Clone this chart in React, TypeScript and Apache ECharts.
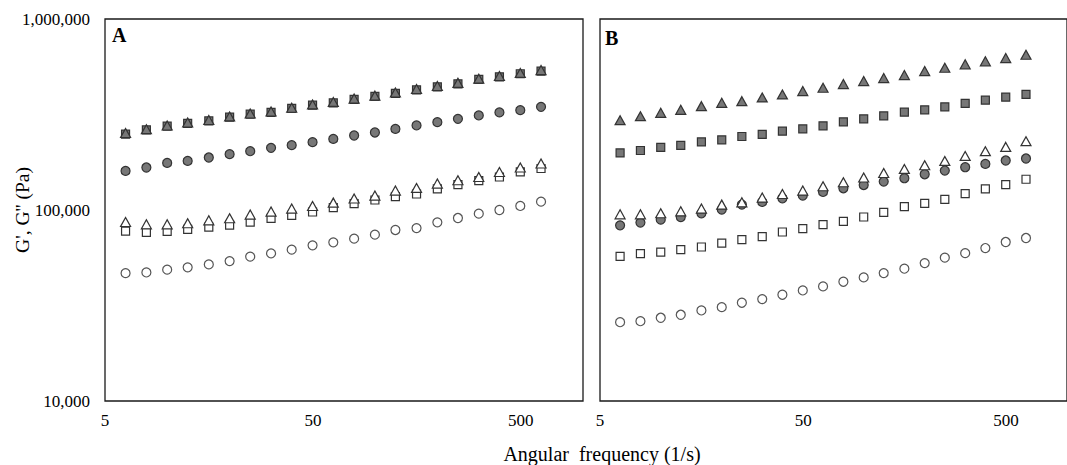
import React, { useEffect, useRef } from "react";
import * as echarts from "echarts";

const freq = [6.28, 7.91, 9.96, 12.5, 15.8, 19.9, 25.0, 31.5, 39.6, 49.9, 62.8, 79.1, 99.6, 125, 158, 199, 250, 315, 396, 499, 628];

const xTicks = [5, 50, 500];
const yTicks = [10000, 100000, 1000000];

// Panel A
const aFilledCircle = [160200, 166900, 176400, 180700, 188300, 196000, 203200, 211500, 218500, 226500, 235700, 245500, 254600, 265900, 277100, 288400, 300100, 312600, 324200, 333300, 346800];
const aFilledSquare = [249500, 262800, 274800, 283900, 292900, 306300, 317600, 324200, 340200, 354000, 364000, 379300, 393300, 407800, 425900, 441600, 457900, 482800, 498200, 516700, 533800];
const aFilledTriangle = [253000, 265000, 277000, 287000, 296000, 309000, 320000, 328000, 343000, 357000, 368000, 383000, 397000, 412000, 430000, 446000, 463000, 487000, 503000, 522000, 540000];
const aOpenCircle = [46700, 47100, 48700, 50100, 51900, 54000, 57000, 59300, 62000, 65300, 67700, 70800, 74300, 78600, 80400, 86200, 90800, 95700, 100000, 105000, 110600];
const aOpenSquare = [77600, 76400, 77300, 79200, 81400, 83400, 86500, 90500, 93800, 97600, 102900, 108000, 112800, 117500, 121300, 128900, 135900, 142600, 148900, 158200, 164900];
const aOpenTriangle = [86500, 84100, 84100, 85200, 88300, 90500, 94600, 98100, 101700, 105000, 109300, 114800, 119000, 126400, 130500, 137500, 143100, 148900, 158200, 166900, 175100];

// Panel B
const bFilledCircle = [83100, 85900, 89000, 91900, 96100, 100500, 106700, 110200, 115200, 119000, 124300, 130000, 135200, 140900, 146700, 153900, 160900, 167500, 174300, 181600, 186000];
const bFilledSquare = [199000, 204900, 212500, 217700, 227300, 232900, 242600, 248600, 258700, 265900, 275800, 289400, 300100, 311100, 325400, 334500, 346800, 361300, 376000, 389900, 402900];
const bFilledTriangle = [295400, 310000, 322700, 334500, 349800, 364000, 371500, 388500, 402900, 419300, 436300, 456300, 473100, 490500, 508500, 533800, 555500, 578800, 600100, 624400, 649900];
const bOpenCircle = [25860, 26170, 27280, 28280, 29790, 31000, 32690, 34150, 36010, 37920, 39800, 42120, 44370, 46720, 49280, 52730, 56280, 59500, 63200, 67970, 71330];
const bOpenSquare = [57200, 59100, 60200, 62000, 64000, 67100, 69900, 72500, 76700, 79900, 83800, 87200, 91900, 97200, 104200, 108400, 113800, 121900, 128900, 135900, 144900];
const bOpenTriangle = [94900, 94900, 96100, 98400, 101700, 106700, 109700, 116100, 121300, 126400, 133100, 139800, 147900, 156300, 164100, 171600, 180700, 191900, 203200, 214000, 229300];

const FONT = "'Liberation Serif', 'Times New Roman', serif";
const FILL = "#777777";
const EDGE = "#333333";

const pair = (ys: number[]) => freq.map((x, i) => [x, ys[i]]);

const fmtX = (v: number) => {
  const p = Math.pow(10, Math.floor(Math.log10(v) + 1e-9));
  const r = Math.round(v / p) * p;
  return xTicks.includes(r) ? String(r) : "";
};
const fmtY = (v: number) => {
  const r = Math.round(v);
  return yTicks.includes(r) ? r.toLocaleString("en-US") : "";
};

function mk(name: string, ys: number[], idx: number, symbol: string, filled: boolean) {
  const size = symbol === "triangle" ? [10, 9] : symbol === "rect" ? 8 : 9;
  return {
    name,
    type: "scatter",
    xAxisIndex: idx,
    yAxisIndex: idx,
    data: pair(ys),
    symbol,
    symbolSize: size,
    itemStyle: {
      color: filled ? FILL : "#ffffff",
      borderColor: symbol === "circle" && !filled ? "#555555" : EDGE,
      borderWidth: 1.2,
      opacity: 1,
    },
    emphasis: { disabled: true },
  };
}

function xAxis(gridIndex: number) {
  return {
    type: "log",
    gridIndex,
    logBase: 10,
    min: 5,
    max: 1000,
    interval: 1,
    axisLine: { show: false },
    axisTick: { show: false },
    splitLine: { show: false },
    axisLabel: {
      formatter: fmtX,
      showMaxLabel: false,
      fontFamily: FONT,
      fontSize: 17,
      color: "#000",
      margin: 11,
    },
  };
}

function yAxis(gridIndex: number, showLabels: boolean) {
  return {
    type: "log",
    gridIndex,
    logBase: 10,
    min: 10000,
    max: 1000000,
    interval: 1,
    axisLine: { show: false },
    axisTick: { show: false },
    splitLine: { show: false },
    axisLabel: {
      show: showLabels,
      formatter: fmtY,
      fontFamily: FONT,
      fontSize: 17,
      color: "#000",
      margin: 15,
    },
  };
}

const option = {
  animation: false,
  backgroundColor: "#ffffff",
  grid: [
    { left: 105, top: 19, width: 478, height: 382, show: true, borderColor: "#1a1a1a", borderWidth: 1.3 },
    { left: 600, top: 19, width: 473, height: 382, show: true, borderColor: "#1a1a1a", borderWidth: 1.3 },
  ],
  xAxis: [xAxis(0), xAxis(1)],
  yAxis: [yAxis(0, true), yAxis(1, false)],
  series: [
    mk("A G'' circle", aFilledCircle, 0, "circle", true),
    mk("A G' square", aFilledSquare, 0, "rect", true),
    mk("A G' triangle", aFilledTriangle, 0, "triangle", true),
    mk("A open circle", aOpenCircle, 0, "circle", false),
    mk("A open square", aOpenSquare, 0, "rect", false),
    mk("A open triangle", aOpenTriangle, 0, "triangle", false),
    mk("B filled circle", bFilledCircle, 1, "circle", true),
    mk("B filled square", bFilledSquare, 1, "rect", true),
    mk("B filled triangle", bFilledTriangle, 1, "triangle", true),
    mk("B open circle", bOpenCircle, 1, "circle", false),
    mk("B open square", bOpenSquare, 1, "rect", false),
    mk("B open triangle", bOpenTriangle, 1, "triangle", false),
  ],
  graphic: [
    {
      type: "text",
      left: 112,
      top: 25,
      style: { text: "A", font: `bold 20px ${FONT}`, fill: "#000" },
    },
    {
      type: "text",
      left: 605,
      top: 28,
      style: { text: "B", font: `bold 20px ${FONT}`, fill: "#000" },
    },
    {
      type: "text",
      x: 602,
      y: 454,
      style: {
        text: "Angular  frequency (1/s)",
        font: `20px ${FONT}`,
        fill: "#000",
        align: "center",
        verticalAlign: "middle",
      },
    },
    {
      type: "text",
      x: 22,
      y: 210,
      rotation: Math.PI / 2,
      style: {
        text: "G', G'' (Pa)",
        font: `19.5px ${FONT}`,
        fill: "#000",
        align: "center",
        verticalAlign: "middle",
      },
    },
  ],
};

export default function App() {
  const ref = useRef<HTMLDivElement>(null);
  useEffect(() => {
    if (!ref.current) return;
    const chart = echarts.init(ref.current, null, { renderer: "svg" });
    chart.setOption(option as any);
    return () => chart.dispose();
  }, []);
  return (
    <div
      ref={ref}
      style={{ position: "absolute", left: 0, top: 0, width: 1067, height: 465, background: "#fff" }}
    />
  );
}
